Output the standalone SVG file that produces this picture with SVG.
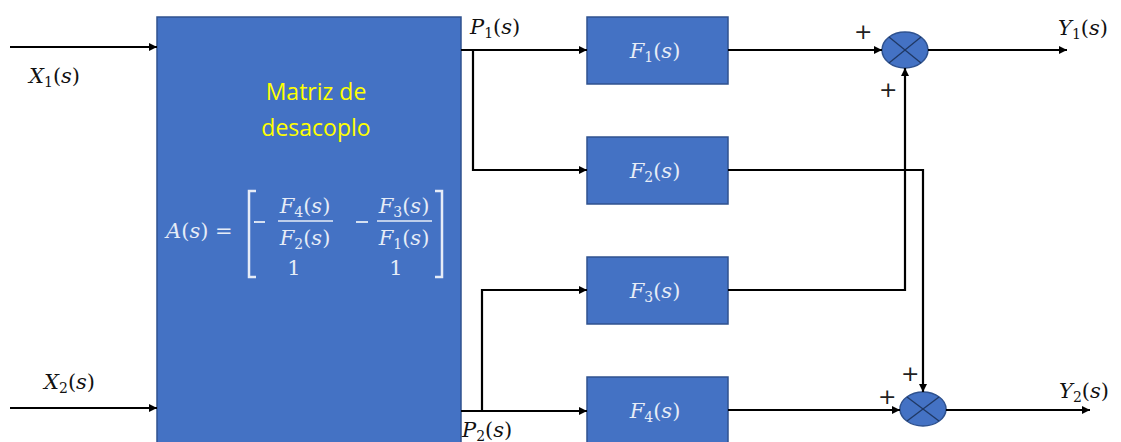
<svg xmlns="http://www.w3.org/2000/svg" width="1121" height="442" viewBox="0 0 1121 442">
  <defs>
    <marker id="arrow" viewBox="0 0 10 10" refX="10" refY="5" markerWidth="8" markerHeight="8" markerUnits="userSpaceOnUse" orient="auto">
      <path d="M0,0 L10,5 L0,10 z" fill="#000"/>
    </marker>
  </defs>
  <style>
    .blk { fill: #4472C4; stroke: #2F528F; stroke-width: 1.5; }
    .sum { fill: #4472C4; stroke: #2F528F; stroke-width: 1.5; }
    .cross { stroke: #1F3864; stroke-width: 1.3; }
    .wire { fill: none; stroke: #000; stroke-width: 2.2; }
    .math { font-family: "DejaVu Serif", "Liberation Serif", serif; font-size: 21px; fill: #111; }
    .mw { font-family: "DejaVu Serif", "Liberation Serif", serif; font-size: 21px; fill: #E6ECF7; }
    .it { font-style: italic; }
    .sub { font-size: 14px; font-style: normal; }
    .plus { font-family: "DejaVu Sans", "Liberation Sans", sans-serif; font-size: 22px; fill: #222; }
    .title { font-family: "Open Sans", "Liberation Sans", sans-serif; font-size: 23px; fill: #FFFF00; }
    .brk { fill: none; stroke: #E6ECF7; stroke-width: 2.5; }
  </style>

  <!-- decoupling matrix block -->
  <g id="matrix">
    <rect class="blk" x="157" y="17" width="304" height="440"/>
    <text class="title" x="316" y="100" text-anchor="middle">Matriz de</text>
    <text class="title" x="316" y="136" text-anchor="middle">desacoplo</text>
    <text class="mw" x="166" y="238" font-size="20"><tspan class="it">A</tspan>(<tspan class="it">s</tspan>) =</text>
    <!-- brackets -->
    <path class="brk" d="M256,191 H249 V277 H256"/>
    <path class="brk" d="M435,191 H442 V277 H435"/>
    <!-- first column -->
    <line x1="254" y1="222" x2="265" y2="222" stroke="#E6ECF7" stroke-width="1.8"/>
    <text class="mw" x="305" y="213" text-anchor="middle" font-size="20"><tspan class="it">F</tspan><tspan class="sub" dy="4">4</tspan><tspan dy="-4">(</tspan><tspan class="it">s</tspan>)</text>
    <line x1="278" y1="221" x2="333" y2="221" stroke="#E6ECF7" stroke-width="1.5"/>
    <text class="mw" x="305" y="245" text-anchor="middle" font-size="20"><tspan class="it">F</tspan><tspan class="sub" dy="4">2</tspan><tspan dy="-4">(</tspan><tspan class="it">s</tspan>)</text>
    <text class="mw" x="294" y="275" text-anchor="middle" font-size="17">1</text>
    <!-- second column -->
    <line x1="356" y1="222" x2="368" y2="222" stroke="#E6ECF7" stroke-width="1.8"/>
    <text class="mw" x="404" y="213" text-anchor="middle" font-size="20"><tspan class="it">F</tspan><tspan class="sub" dy="4">3</tspan><tspan dy="-4">(</tspan><tspan class="it">s</tspan>)</text>
    <line x1="377" y1="221" x2="432" y2="221" stroke="#E6ECF7" stroke-width="1.5"/>
    <text class="mw" x="404" y="245" text-anchor="middle" font-size="20"><tspan class="it">F</tspan><tspan class="sub" dy="4">1</tspan><tspan dy="-4">(</tspan><tspan class="it">s</tspan>)</text>
    <text class="mw" x="396" y="275" text-anchor="middle" font-size="17">1</text>
  </g>

  <!-- transfer function blocks -->
  <g id="F1">
    <rect class="blk" x="587" y="17" width="141" height="67"/>
    <text class="mw" x="655" y="58" text-anchor="middle"><tspan class="it">F</tspan><tspan class="sub" dy="4">1</tspan><tspan dy="-4">(</tspan><tspan class="it">s</tspan>)</text>
  </g>
  <g id="F2">
    <rect class="blk" x="587" y="137" width="141" height="67"/>
    <text class="mw" x="655" y="178" text-anchor="middle"><tspan class="it">F</tspan><tspan class="sub" dy="4">2</tspan><tspan dy="-4">(</tspan><tspan class="it">s</tspan>)</text>
  </g>
  <g id="F3">
    <rect class="blk" x="587" y="257" width="141" height="67"/>
    <text class="mw" x="655" y="298" text-anchor="middle"><tspan class="it">F</tspan><tspan class="sub" dy="4">3</tspan><tspan dy="-4">(</tspan><tspan class="it">s</tspan>)</text>
  </g>
  <g id="F4">
    <rect class="blk" x="587" y="377" width="141" height="67"/>
    <text class="mw" x="655" y="418" text-anchor="middle"><tspan class="it">F</tspan><tspan class="sub" dy="4">4</tspan><tspan dy="-4">(</tspan><tspan class="it">s</tspan>)</text>
  </g>

  <!-- summing junctions -->
  <g id="sum1">
    <ellipse class="sum" cx="905" cy="50" rx="23" ry="18"/>
    <line class="cross" x1="889" y1="37" x2="921" y2="63"/>
    <line class="cross" x1="921" y1="37" x2="889" y2="63"/>
  </g>
  <g id="sum2">
    <ellipse class="sum" cx="923" cy="409" rx="23" ry="17"/>
    <line class="cross" x1="907" y1="397" x2="939" y2="421"/>
    <line class="cross" x1="939" y1="397" x2="907" y2="421"/>
  </g>

  <!-- connectors -->
  <g id="connectors">
    <line class="wire" x1="10" y1="47" x2="157" y2="47" marker-end="url(#arrow)"/>
    <line class="wire" x1="10" y1="408" x2="157" y2="408" marker-end="url(#arrow)"/>
    <line class="wire" x1="461" y1="50" x2="587" y2="50" marker-end="url(#arrow)"/>
    <polyline class="wire" points="473,50 473,170 587,170" marker-end="url(#arrow)"/>
    <line class="wire" x1="461" y1="411" x2="587" y2="411" marker-end="url(#arrow)"/>
    <polyline class="wire" points="482,411 482,290 587,290" marker-end="url(#arrow)"/>
    <line class="wire" x1="728" y1="50" x2="882" y2="50" marker-end="url(#arrow)"/>
    <line class="wire" x1="928" y1="50" x2="1067" y2="50" marker-end="url(#arrow)"/>
    <polyline class="wire" points="728,170 923,170 923,392" marker-end="url(#arrow)"/>
    <polyline class="wire" points="728,290 905,290 905,68" marker-end="url(#arrow)"/>
    <line class="wire" x1="728" y1="410" x2="900" y2="410" marker-end="url(#arrow)"/>
    <line class="wire" x1="946" y1="410" x2="1090" y2="410" marker-end="url(#arrow)"/>
  </g>

  <!-- signal labels -->
  <g id="labels">
    <text class="math" x="29" y="83"><tspan class="it">X</tspan><tspan class="sub" dy="4">1</tspan><tspan dy="-4">(</tspan><tspan class="it">s</tspan>)</text>
    <text class="math" x="44" y="389"><tspan class="it">X</tspan><tspan class="sub" dy="4">2</tspan><tspan dy="-4">(</tspan><tspan class="it">s</tspan>)</text>
    <text class="math" x="470" y="34"><tspan class="it">P</tspan><tspan class="sub" dy="4">1</tspan><tspan dy="-4">(</tspan><tspan class="it">s</tspan>)</text>
    <text class="math" x="462" y="437"><tspan class="it">P</tspan><tspan class="sub" dy="4">2</tspan><tspan dy="-4">(</tspan><tspan class="it">s</tspan>)</text>
    <text class="math" x="1058" y="35"><tspan class="it">Y</tspan><tspan class="sub" dy="4">1</tspan><tspan dy="-4">(</tspan><tspan class="it">s</tspan>)</text>
    <text class="math" x="1059" y="398"><tspan class="it">Y</tspan><tspan class="sub" dy="4">2</tspan><tspan dy="-4">(</tspan><tspan class="it">s</tspan>)</text>
    <text class="plus" x="854" y="39">+</text>
    <text class="plus" x="879" y="97">+</text>
    <text class="plus" x="901" y="381">+</text>
    <text class="plus" x="878" y="404">+</text>
  </g>
</svg>
